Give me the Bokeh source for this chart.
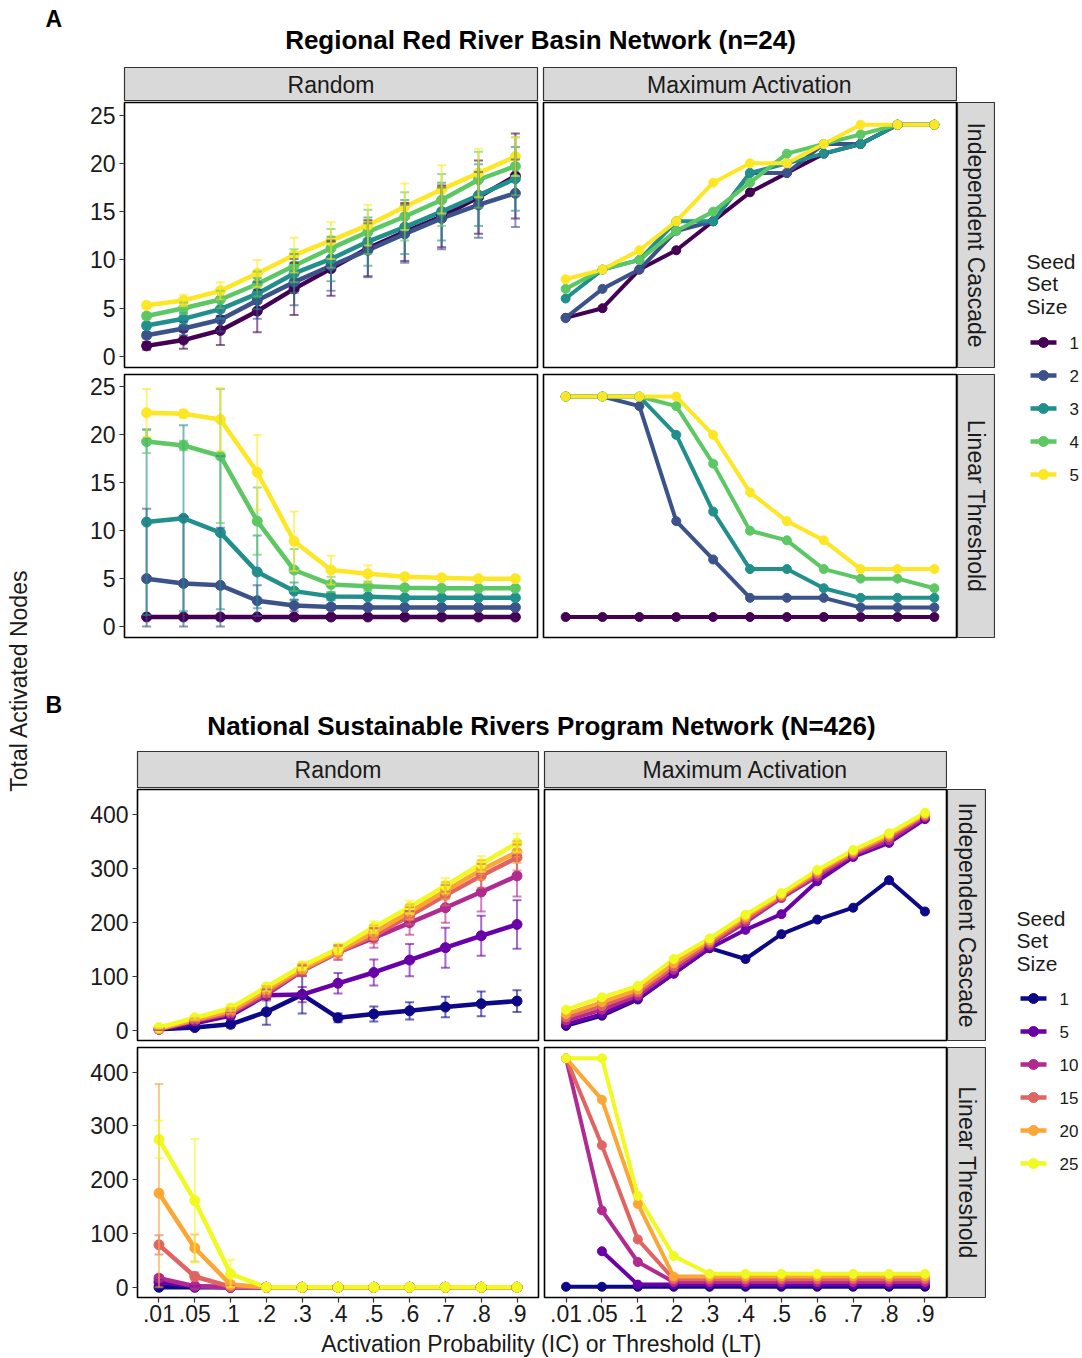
import math
from bokeh.plotting import figure
from bokeh.layouts import row, column
from bokeh.models import Range1d, FixedTicker, Whisker, TeeHead, ColumnDataSource
from bokeh.core.properties import value
from bokeh.embed import file_html
from bokeh.resources import INLINE

nan = float("nan")

# ---------------- data ----------------
x_labels = [".01", ".05", ".1", ".2", ".3", ".4", ".5", ".6", ".7", ".8", ".9"]

seeds_A = [1, 2, 3, 4, 5]
colors_A = ["#440154", "#3B528B", "#21908C", "#5DC863", "#FDE725"]
seeds_B = [1, 5, 10, 15, 20, 25]
colors_B = ["#0D0887", "#6A00A8", "#B12A90", "#E16462", "#FCA636", "#F0F921"]

# Section A: Regional Red River Basin (n=24)
A_rand_ic_s1 = [1.1, 1.7, 2.7, 4.7, 7.0, 9.1, 11.2, 12.9, 14.5, 16.5, 18.7]
A_rand_ic_s2 = [2.2, 2.9, 3.8, 5.8, 7.7, 9.4, 11.0, 12.7, 14.3, 15.7, 16.9]
A_rand_ic_s3 = [3.2, 3.9, 4.9, 6.5, 8.6, 10.1, 11.9, 13.4, 15.0, 16.7, 18.4]
A_rand_ic_s4 = [4.2, 5.0, 5.9, 7.5, 9.4, 11.2, 12.9, 14.5, 16.2, 18.3, 19.7]
A_rand_ic_s5 = [5.3, 5.8, 6.8, 8.6, 10.5, 12.0, 13.6, 15.5, 17.3, 19.0, 20.7]
A_rand_ic_sd1 = [0.4, 0.9, 1.5, 2.2, 2.7, 2.8, 2.9, 3.0, 3.2, 3.8, 4.4]
A_rand_ic_sd2 = [0.3, 0.7, 1.2, 1.9, 2.4, 2.6, 2.8, 3.0, 3.2, 3.4, 3.5]
A_rand_ic_sd3 = [0.3, 0.6, 1.0, 1.6, 2.0, 2.3, 2.5, 2.8, 3.0, 3.2, 3.3]
A_rand_ic_sd4 = [0.3, 0.6, 0.9, 1.3, 1.7, 2.0, 2.3, 2.5, 2.7, 2.9, 3.0]
A_rand_ic_sd5 = [0.3, 0.6, 0.9, 1.4, 1.8, 1.9, 2.1, 2.4, 2.5, 2.5, 2.0]

A_max_ic_s1 = [4, 5, 9, 11, 14, 17, 19, 21, 22, 24, 24]
A_max_ic_s2 = [4, 7, 9, 13, 14, 19, 19, 22, 22, 24, 24]
A_max_ic_s3 = [6, 9, 10, 14, 14, 19, 20, 21, 22, 24, 24]
A_max_ic_s4 = [7, 9, 10, 13, 15, 18, 21, 22, 23, 24, 24]
A_max_ic_s5 = [8, 9, 11, 14, 18, 20, 20, 22, 24, 24, 24]

A_rand_lt_s1 = [1, 1, 1, 1, 1, 1, 1, 1, 1, 1, 1]
A_rand_lt_s2 = [5.0, 4.5, 4.3, 2.7, 2.2, 2.05, 2.0, 2.0, 2.0, 2.0, 2.0]
A_rand_lt_s3 = [10.9, 11.3, 9.8, 5.7, 3.7, 3.15, 3.1, 3.0, 3.0, 3.0, 3.0]
A_rand_lt_s4 = [19.3, 18.9, 17.8, 11.0, 5.9, 4.4, 4.2, 4.05, 4.0, 4.0, 4.0]
A_rand_lt_s5 = [22.3, 22.2, 21.6, 16.1, 8.9, 5.9, 5.5, 5.2, 5.1, 5.0, 5.0]
A_rand_lt_sd1 = [0, 0, 0, 0, 0, 0, 0, 0, 0, 0, 0]
A_rand_lt_sd2 = [7.3, 7.0, 6.0, 1.6, 0.6, 0.3, 0, 0, 0, 0, 0]
A_rand_lt_sd3 = [9.7, 9.7, 8.0, 3.8, 0.9, 0.4, 0.2, 0, 0, 0, 0]
A_rand_lt_sd4 = [1.2, 0.5, 7.0, 3.5, 2.2, 0.8, 0.5, 0.2, 0, 0, 0]
A_rand_lt_sd5 = [2.5, 0.4, 3.3, 3.9, 3.1, 1.5, 0.9, 0.3, 0, 0, 0]

A_max_lt_s1 = [1, 1, 1, 1, 1, 1, 1, 1, 1, 1, 1]
A_max_lt_s2 = [24, 24, 23, 11, 7, 3, 3, 3, 2, 2, 2]
A_max_lt_s3 = [24, 24, 24, 20, 12, 6, 6, 4, 3, 3, 3]
A_max_lt_s4 = [24, 24, 24, 23, 17, 10, 9, 6, 5, 5, 4]
A_max_lt_s5 = [24, 24, 24, 24, 20, 14, 11, 9, 6, 6, 6]

# Section B: National Sustainable Rivers Program (N=426)
B_rand_ic_s1 = [2, 5, 11, 34, 66, 23, 30, 36, 43, 49, 54]
B_rand_ic_s5 = [2, 13, 27, 65, 66, 87, 107, 130, 153, 175, 196]
B_rand_ic_s10 = [2, 17, 31, 66, 110, 144, 171, 199, 227, 256, 286]
B_rand_ic_s15 = [2, 18, 33, 70, 111, 144, 175, 212, 250, 286, 320]
B_rand_ic_s20 = [3, 20, 36, 75, 114, 147, 181, 219, 258, 297, 330]
B_rand_ic_s25 = [5, 23, 41, 80, 119, 151, 191, 228, 268, 308, 347]
B_rand_ic_sd1 = [1, 2, 6, 24, 35, 8, 14, 16, 19, 23, 20]
B_rand_ic_sd5 = [1, 3, 6, 10, 14, 19, 24, 30, 37, 37, 45]
B_rand_ic_sd10 = [1, 3, 5, 8, 10, 14, 18, 22, 28, 36, 38]
B_rand_ic_sd15 = [1, 3, 5, 8, 10, 12, 14, 16, 19, 22, 24]
B_rand_ic_sd20 = [1, 3, 5, 7, 9, 11, 13, 14, 16, 18, 20]
B_rand_ic_sd25 = [1, 3, 5, 7, 8, 10, 11, 12, 14, 15, 17]

B_max_ic_s1 = [8, 27, 57, 105, 152, 132, 178, 205, 227, 278, 220]
B_max_ic_s5 = [11, 30, 59, 105, 152, 186, 215, 276, 321, 347, 391]
B_max_ic_s10 = [18, 38, 64, 112, 158, 200, 245, 285, 325, 352, 395]
B_max_ic_s15 = [24, 45, 70, 118, 162, 205, 248, 290, 328, 358, 398]
B_max_ic_s20 = [30, 52, 75, 124, 166, 210, 251, 294, 331, 362, 400]
B_max_ic_s25 = [38, 61, 82, 132, 170, 214, 254, 297, 334, 365, 403]

B_rand_lt_s1 = [0, 0, 0, 0, 0, 0, 0, 0, 0, 0, 0]
B_rand_lt_s5 = [10, 2, 0, 0, 0, 0, 0, 0, 0, 0, 0]
B_rand_lt_s10 = [17, 2, 0, 0, 0, 0, 0, 0, 0, 0, 0]
B_rand_lt_s15 = [79, 20, 1, 0, 0, 0, 0, 0, 0, 0, 0]
B_rand_lt_s20 = [175, 73, 5, 0, 0, 0, 0, 0, 0, 0, 0]
B_rand_lt_s25 = [275, 161, 25, 0, 0, 0, 0, 0, 0, 0, 0]
B_rand_lt_sd1 = [0, 0, 0, 0, 0, 0, 0, 0, 0, 0, 0]
B_rand_lt_sd5 = [3, 1, 0, 0, 0, 0, 0, 0, 0, 0, 0]
B_rand_lt_sd10 = [5, 3, 0, 0, 0, 0, 0, 0, 0, 0, 0]
B_rand_lt_sd15 = [18, 8, 2, 0, 0, 0, 0, 0, 0, 0, 0]
B_rand_lt_sd20 = [203, 25, 6, 0, 0, 0, 0, 0, 0, 0, 0]
B_rand_lt_sd25 = [35, 115, 26, 0, 0, 0, 0, 0, 0, 0, 0]

B_max_lt_s1 = [1, 1, 1, 1, 1, 1, 1, 1, 1, 1, 1]
B_max_lt_s5 = [nan, 67, 5, 5, 5, 5, 5, 5, 5, 5, 5]
B_max_lt_s10 = [426, 143, 47, 10, 10, 10, 10, 10, 10, 10, 10]
B_max_lt_s15 = [426, 264, 89, 15, 15, 15, 15, 15, 15, 15, 15]
B_max_lt_s20 = [426, 349, 155, 20, 20, 20, 20, 20, 20, 20, 20]
B_max_lt_s25 = [426, 426, 170, 58, 25, 25, 25, 25, 25, 25, 25]

A_rand_ic = [A_rand_ic_s1, A_rand_ic_s2, A_rand_ic_s3, A_rand_ic_s4, A_rand_ic_s5]
A_rand_ic_sd = [A_rand_ic_sd1, A_rand_ic_sd2, A_rand_ic_sd3, A_rand_ic_sd4, A_rand_ic_sd5]
A_max_ic = [A_max_ic_s1, A_max_ic_s2, A_max_ic_s3, A_max_ic_s4, A_max_ic_s5]
A_rand_lt = [A_rand_lt_s1, A_rand_lt_s2, A_rand_lt_s3, A_rand_lt_s4, A_rand_lt_s5]
A_rand_lt_sd = [A_rand_lt_sd1, A_rand_lt_sd2, A_rand_lt_sd3, A_rand_lt_sd4, A_rand_lt_sd5]
A_max_lt = [A_max_lt_s1, A_max_lt_s2, A_max_lt_s3, A_max_lt_s4, A_max_lt_s5]
B_rand_ic = [B_rand_ic_s1, B_rand_ic_s5, B_rand_ic_s10, B_rand_ic_s15, B_rand_ic_s20, B_rand_ic_s25]
B_rand_ic_sd = [B_rand_ic_sd1, B_rand_ic_sd5, B_rand_ic_sd10, B_rand_ic_sd15, B_rand_ic_sd20, B_rand_ic_sd25]
B_max_ic = [B_max_ic_s1, B_max_ic_s5, B_max_ic_s10, B_max_ic_s15, B_max_ic_s20, B_max_ic_s25]
B_rand_lt = [B_rand_lt_s1, B_rand_lt_s5, B_rand_lt_s10, B_rand_lt_s15, B_rand_lt_s20, B_rand_lt_s25]
B_rand_lt_sd = [B_rand_lt_sd1, B_rand_lt_sd5, B_rand_lt_sd10, B_rand_lt_sd15, B_rand_lt_sd20, B_rand_lt_sd25]
B_max_lt = [B_max_lt_s1, B_max_lt_s5, B_max_lt_s10, B_max_lt_s15, B_max_lt_s20, B_max_lt_s25]

title_A = "Regional Red River Basin Network (n=24)"
title_B = "National Sustainable Rivers Program Network (N=426)"
col_strips = ["Random", "Maximum Activation"]
row_strips = ["Independent Cascade", "Linear Threshold"]
y_title = "Total Activated Nodes"
x_title = "Activation Probability (IC) or Threshold (LT)"
legend_title = ["Seed", "Set", "Size"]

A_yticks = [0, 5, 10, 15, 20, 25]
B_yticks = [0, 100, 200, 300, 400]
A_yrange = (-1.14, 26.3)
B_yrange = (-19, 446)

FONT = value("Liberation Sans")
XS = list(range(1, len(x_labels) + 1))


def blank(fw, fh, xr, yr, ml=0, mr=0, mt=0, mb=0):
    p = figure(frame_width=fw, frame_height=fh, x_range=Range1d(*xr), y_range=Range1d(*yr),
               x_axis_location=None, y_axis_location=None, toolbar_location=None,
               output_backend="svg", min_border_left=ml, min_border_right=mr,
               min_border_top=mt, min_border_bottom=mb)
    p.grid.visible = False
    p.outline_line_color = None
    p.background_fill_color = "white"
    p.border_fill_color = "white"
    return p


def strip(fw, fh, label, vertical=False, ml=0, mr=0, mt=0, mb=0):
    p = blank(fw, fh, (0, 1), (0, 1), ml, mr, mt, mb)
    p.background_fill_color = "#D9D9D9"
    p.outline_line_color = "#333333"
    p.outline_line_width = 1.2
    p.text(x=[0.5], y=[0.5], text=[label], text_font=FONT, text_font_size="23px",
           text_align="center", text_baseline="middle", text_color="#1A1A1A",
           angle=-math.pi / 2 if vertical else 0)
    return p


def panel(fw, fh, yr, yticks, series, colors, sds=None, left=False, bottom=False,
          ml=0, mr=0, mt=0, mb=0, lw=4.5, ps=10):
    p = figure(frame_width=fw, frame_height=fh, x_range=Range1d(0.4, 11.6),
               y_range=Range1d(*yr), x_axis_location="below" if bottom else None,
               y_axis_location="left" if left else None, toolbar_location=None,
               output_backend="svg", min_border_left=ml, min_border_right=mr,
               min_border_top=mt, min_border_bottom=mb)
    p.grid.visible = False
    p.outline_line_color = "black"
    p.outline_line_width = 1.6
    p.background_fill_color = "white"
    p.border_fill_color = "white"
    for ser, c in zip(series, colors):
        p.line(XS, ser, line_color=c, line_width=lw)
    for ser, c in zip(series, colors):
        p.scatter(XS, ser, size=ps, fill_color=c, line_color=c)
    if sds is not None:
        for ser, sd, c in zip(series, sds, colors):
            xs = [x for x, s in zip(XS, sd) if s > 0]
            up = [m + s for m, s in zip(ser, sd) if s > 0]
            lo = [max(0, m - s) for m, s in zip(ser, sd) if s > 0]
            if not xs:
                continue
            src = ColumnDataSource(dict(x=xs, upper=up, lower=lo))
            w = Whisker(base="x", upper="upper", lower="lower", source=src, dimension="height",
                        line_color=c, line_alpha=0.6, line_width=2,
                        upper_head=TeeHead(size=9, line_color=c, line_alpha=0.6, line_width=2),
                        lower_head=TeeHead(size=9, line_color=c, line_alpha=0.6, line_width=2))
            w.level = "annotation"
            p.add_layout(w)
    for ax in p.axis:
        ax.axis_line_color = None
        ax.major_tick_out = 5
        ax.major_tick_in = 0
        ax.minor_tick_out = 0
        ax.minor_tick_in = 0
        ax.major_tick_line_color = "#333333"
        ax.major_tick_line_width = 1.2
        ax.major_label_text_font = "Liberation Sans"
        ax.major_label_text_font_size = "23px"
        ax.major_label_text_color = "#1A1A1A"
    if left:
        p.yaxis.ticker = FixedTicker(ticks=yticks)
        p.yaxis.major_label_standoff = 4
    if bottom:
        p.xaxis.ticker = FixedTicker(ticks=XS)
        p.xaxis.major_label_overrides = {x: lab for x, lab in zip(XS, x_labels)}
        p.xaxis.major_label_standoff = 2
    return p


def legend_fig(fw, fh, xr, yr, seeds, colors, title_x, title_ys, y0, dy, kx0, kx1, lx):
    p = blank(fw, fh, xr, yr)
    p.text(x=[title_x] * len(legend_title), y=title_ys, text=legend_title, text_font=FONT,
           text_font_size="21px", text_align="left", text_baseline="middle", text_color="#1A1A1A")
    ys = [y0 + dy * i for i in range(len(seeds))]
    p.segment(x0=[kx0] * len(seeds), y0=ys, x1=[kx1] * len(seeds), y1=ys,
              line_color=colors, line_width=4.5)
    p.scatter(x=[(kx0 + kx1) / 2] * len(seeds), y=ys, size=10, fill_color=colors, line_color=colors)
    p.text(x=[lx] * len(seeds), y=ys, text=[str(s) for s in seeds], text_font=FONT,
           text_font_size="17px", text_align="left", text_baseline="middle", text_color="#1A1A1A")
    return p


# ---------------- y title column ----------------
ytitle = blank(40, 1358, (0, 40), (1358, 0))
ytitle.text(x=[18], y=[680], text=[y_title], text_font=FONT, text_font_size="23px",
            text_align="center", text_baseline="middle", angle=math.pi / 2, text_color="#1A1A1A")

# ---------------- Section A ----------------
hdrA = blank(1042, 66, (40, 1082), (66, 0))
hdrA.text(x=[45], y=[18], text=["A"], text_font=FONT, text_font_size="23px", text_font_style="bold",
          text_align="left", text_baseline="middle", text_color="black")
hdrA.text(x=[540], y=[39], text=[title_A], text_font=FONT, text_font_size="26px", text_font_style="bold",
          text_align="center", text_baseline="middle", text_color="black")

# y: strip 66-101, row1 frame 102-367 (+4 below), row2 frame 374-637 (+4 below) -> 641
A_strip_row = row(strip(413, 34, col_strips[0], ml=84, mr=2, mt=1),
                  strip(413, 34, col_strips[1], ml=4, mr=1, mt=1))
A_row1 = row(panel(413, 265, A_yrange, A_yticks, A_rand_ic, colors_A, A_rand_ic_sd, left=True, ml=84, mr=2, mt=1, mb=4),
             panel(413, 265, A_yrange, A_yticks, A_max_ic, colors_A, ml=4, mr=1, mt=1, mb=4, lw=4, ps=9),
             strip(37, 265, row_strips[0], vertical=True, ml=0, mr=1, mt=1, mb=4))
A_row2 = row(panel(413, 263, A_yrange, A_yticks, A_rand_lt, colors_A, A_rand_lt_sd, left=True, ml=84, mr=2, mt=3, mb=4),
             panel(413, 263, A_yrange, A_yticks, A_max_lt, colors_A, ml=4, mr=1, mt=3, mb=4, lw=4, ps=9),
             strip(37, 263, row_strips[1], vertical=True, ml=0, mr=1, mt=3, mb=4))
A_grid = column(A_strip_row, A_row1, A_row2)
A_leg = legend_fig(87, 575, (995, 1082), (641, 66), seeds_A, colors_A,
                   1026, [261, 283, 306], 342, 33, 1030, 1056, 1069)
A_body = row(A_grid, A_leg)

# ---------------- Section B ----------------
hdrB = blank(1042, 109, (40, 1082), (750, 641))
hdrB.text(x=[45], y=[704], text=["B"], text_font=FONT, text_font_size="23px", text_font_style="bold",
          text_align="left", text_baseline="middle", text_color="black")
hdrB.text(x=[541], y=[725], text=[title_B], text_font=FONT, text_font_size="26px", text_font_style="bold",
          text_align="center", text_baseline="middle", text_color="black")

# y: strip 750-788, row1 frame 789-1040 (+4), row2 frame 1047-1297 (+34) -> 1331
B_strip_row = row(strip(401, 37, col_strips[0], ml=97, mr=2, mt=1),
                  strip(402, 37, col_strips[1], ml=4, mr=1, mt=1))
B_row1 = row(panel(401, 251, B_yrange, B_yticks, B_rand_ic, colors_B, B_rand_ic_sd, left=True, ml=97, mr=2, mt=1, mb=4),
             panel(402, 251, B_yrange, B_yticks, B_max_ic, colors_B, ml=4, mr=1, mt=1, mb=4, lw=4, ps=9),
             strip(38, 251, row_strips[0], vertical=True, ml=0, mr=1, mt=1, mb=4))
B_row2 = row(panel(401, 250, B_yrange, B_yticks, B_rand_lt, colors_B, B_rand_lt_sd, left=True, bottom=True,
                   ml=97, mr=2, mt=3, mb=34),
             panel(402, 250, B_yrange, B_yticks, B_max_lt, colors_B, bottom=True, ml=4, mr=1, mt=3, mb=34, lw=4, ps=9),
             strip(38, 250, row_strips[1], vertical=True, ml=0, mr=1, mt=3, mb=34))
B_grid = column(B_strip_row, B_row1, B_row2)
B_leg = legend_fig(96, 581, (986, 1082), (1331, 750), seeds_B, colors_B,
                   1016, [918, 940, 963], 998, 33, 1020, 1046, 1059)
B_body = row(B_grid, B_leg)

footer = blank(1042, 27, (40, 1082), (1358, 1331))
footer.text(x=[541], y=[1343], text=[x_title], text_font=FONT, text_font_size="23px",
            text_align="center", text_baseline="middle", text_color="#1A1A1A")

right = column(hdrA, A_body, hdrB, B_body, footer)
page = row(ytitle, right)

open("out.html", "w").write(file_html(page, INLINE))
